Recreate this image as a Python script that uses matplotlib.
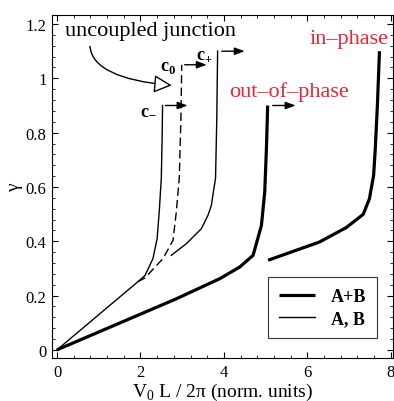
import matplotlib
matplotlib.use("Agg")
import matplotlib.pyplot as plt
from matplotlib.ticker import MultipleLocator

# c- branch (single junction A, B)
cm_x = [0.0, 1.94, 2.11, 2.30, 2.40, 2.45, 2.50, 2.52, 2.53]
cm_y = [0.0, 0.251, 0.274, 0.336, 0.41, 0.508, 0.631, 0.78, 0.90]

# c0 uncoupled junction (dashed)
c0_x = [1.94, 2.11, 2.54, 2.78, 2.86, 2.93, 2.97, 2.99]
c0_y = [0.251, 0.265, 0.336, 0.403, 0.508, 0.631, 0.85, 1.05]

# c+ branch
cp_x = [2.74, 3.10, 3.46, 3.62, 3.70, 3.76, 3.80, 3.83, 3.85]
cp_y = [0.348, 0.391, 0.446, 0.496, 0.532, 0.594, 0.631, 0.85, 1.10]

# A+B out-of-phase
oop_x = [0.0, 2.86, 3.90, 4.38, 4.70, 4.90, 4.98, 5.02, 5.05]
oop_y = [0.0, 0.188, 0.262, 0.305, 0.348, 0.458, 0.582, 0.742, 0.90]

# A+B in-phase
inp_x = [5.06, 6.29, 6.93, 7.34, 7.49, 7.59, 7.63, 7.68, 7.73]
inp_y = [0.33, 0.397, 0.45, 0.499, 0.557, 0.643, 0.742, 0.90, 1.10]

# switching arrows: (x start, x end, y)
arrows = [(2.60, 3.13, 0.90), (3.06, 3.59, 1.05), (3.95, 4.50, 1.10),
          (5.17, 5.72, 0.90), (7.80, 8.25, 1.10)]

plt.rcParams['font.family'] = ['Liberation Serif', 'DejaVu Serif']
plt.rcParams['mathtext.fontset'] = 'custom'
plt.rcParams['mathtext.rm'] = 'Liberation Serif'
plt.rcParams['mathtext.bf'] = 'Liberation Serif:bold'

fig = plt.figure(figsize=(3.94, 4.02), dpi=100)
ax = fig.add_axes([0.132, 0.107, 0.865, 0.853])

ax.plot(oop_x, oop_y, color='k', lw=2.3, label='A+B', solid_capstyle='butt')
ax.plot(inp_x, inp_y, color='k', lw=2.3, solid_capstyle='butt')
ax.plot(cm_x, cm_y, color='k', lw=1.0, label='A, B')
ax.plot(c0_x, c0_y, color='k', lw=1.0, dashes=(6, 3))
ax.plot(cp_x, cp_y, color='k', lw=1.0)

for x0, x1, y in arrows:
    ann = ax.annotate('', xy=(x1, y), xytext=(x0, y),
                      arrowprops=dict(arrowstyle='-|>,head_length=0.6,head_width=0.22',
                                      color='k', lw=1.0, shrinkA=0, shrinkB=0))
    ann.arrow_patch.set_clip_path(ax.patch)

ax.text(2.19, 0.89, r'$\mathbf{c}_{\mathbf{-}}$', fontsize=13, ha='center', va='center')
ax.text(2.66, 1.045, r'$\mathbf{c}_{\mathbf{0}}$', fontsize=13, ha='center', va='center')
ax.text(3.53, 1.09, r'$\mathbf{c}_{\mathbf{+}}$', fontsize=13, ha='center', va='center')

ax.text(2.25, 1.159, 'uncoupled junction', fontsize=16, ha='center', va='baseline')
ax.annotate('', xy=(2.75, 0.974), xytext=(0.79, 1.118),
            arrowprops=dict(arrowstyle='-|>,head_length=1.1,head_width=0.55',
                            fc='white', ec='k', lw=1.0, shrinkA=0, shrinkB=0,
                            connectionstyle='angle3,angleA=95,angleB=-5'))

ax.text(5.57, 0.952, 'out–of–phase', fontsize=16, color='#ee2233', ha='center', va='center')
ax.text(6.99, 1.148, 'in–phase', fontsize=16, color='#ee2233', ha='center', va='center')

ax.set_xlim(-0.12, 8.05)
ax.set_ylim(-0.03, 1.233)
ax.xaxis.set_minor_locator(MultipleLocator(0.4))
ax.yaxis.set_minor_locator(MultipleLocator(0.04))
ax.set_yticks([0, 0.2, 0.4, 0.6, 0.8, 1.0, 1.2])
ax.set_yticklabels(['0', '0.2', '0.4', '0.6', '0.8', '1', '1.2'])
ax.set_xticks([0, 2, 4, 6, 8])
ax.set_xticklabels(['0', '2', '4', '6', '8'])
ax.tick_params(which='both', direction='in', top=True, right=True, labelsize=12)
ax.tick_params(which='major', length=4, width=0.8, pad=4)
ax.tick_params(which='minor', length=2, width=0.6)

ax.set_xlabel(r'V$_0$ L / 2π (norm. units)', fontsize=14, labelpad=1)
ax.set_ylabel('γ', fontsize=14, labelpad=2)

leg = ax.legend(loc='lower left', bbox_to_anchor=(0.633, 0.058), borderaxespad=0,
                fancybox=False, edgecolor='#333333', framealpha=1,
                prop={'weight': 'bold', 'size': 13}, handlelength=2.0,
                borderpad=0.6, labelspacing=0.3, handletextpad=0.9)
leg.get_frame().set_linewidth(0.8)

fig.savefig('out.png', dpi=100)
